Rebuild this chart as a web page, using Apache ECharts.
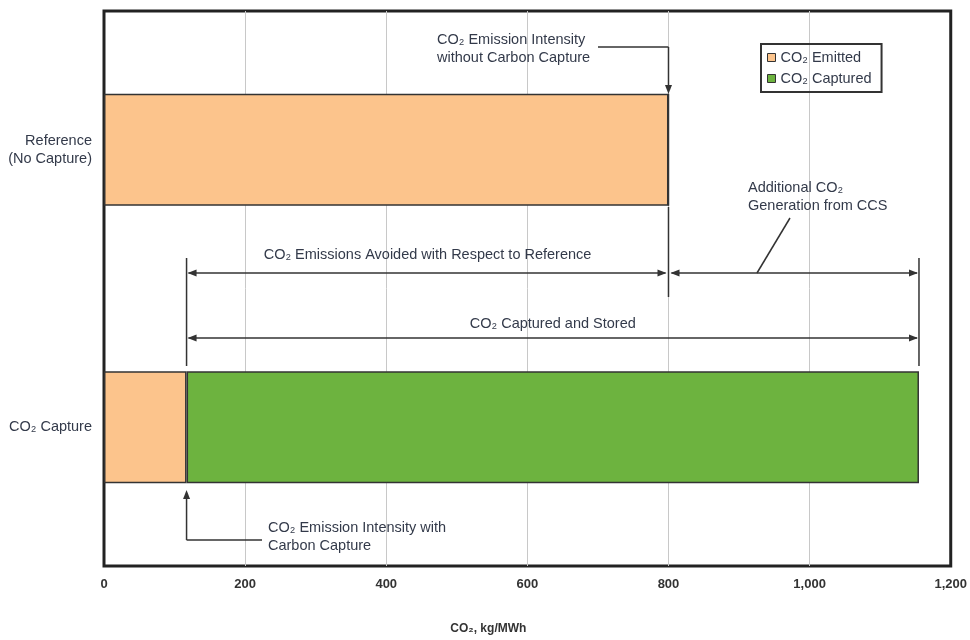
<!DOCTYPE html>
<html>
<head>
<meta charset="utf-8">
<script src="https://cdn.jsdelivr.net/npm/echarts@6/dist/echarts.min.js"></script>
<style>html,body{margin:0;padding:0;background:#fff;}#c{width:970px;height:640px;}</style>
</head>
<body>
<div id="c"></div>
<script>
// ---- data ----
var categories = ['Reference\n(No Capture)', 'CO₂ Capture'];
var emitted = [800, 117];
var captured = [0, 1038];
var xTicks = [0, 200, 400, 600, 800, 1000, 1200];
var seriesNames = ['CO₂ Emitted', 'CO₂ Captured'];

var FONT = '"Liberation Sans", Arial, sans-serif';
var TXT = '#333a4a';
var FS = 14.5;
var chart = echarts.init(document.getElementById('c'), null, {renderer: 'canvas'});

var option = {
  animation: false,
  backgroundColor: '#fff',
  textStyle: {fontFamily: FONT},
  grid: {left: 104, right: 15, top: 11, bottom: 68, show: true, borderColor: '#222', borderWidth: 3, containLabel: false},
  legend: {
    left: 761, top: 44, orient: 'vertical',
    data: seriesNames,
    icon: 'rect', itemWidth: 8, itemHeight: 8, itemGap: 6,
    padding: [6, 10, 6, 6],
    borderColor: '#333', borderWidth: 2,
    textStyle: {fontSize: FS, color: TXT, fontFamily: FONT},
    itemStyle: {borderColor: '#333', borderWidth: 1}
  },
  xAxis: {
    type: 'value', min: xTicks[0], max: xTicks[xTicks.length - 1], interval: 200,
    name: 'CO₂, kg/MWh', nameLocation: 'middle', nameGap: 57,
    nameTextStyle: {fontSize: 12, fontWeight: 'bold', color: '#333', fontFamily: FONT, padding: [0, 78, 0, 0]},
    axisLine: {show: false}, axisTick: {show: false},
    axisLabel: {margin: 12, fontSize: 13, fontWeight: 'bold', color: '#333',
      formatter: function (v) { return v.toLocaleString('en-US'); }},
    splitLine: {show: true, showMinLine: false, showMaxLine: false, lineStyle: {color: '#c8c8c8', width: 1}}
  },
  yAxis: {
    type: 'category', data: categories, inverse: true,
    axisLine: {show: false}, axisTick: {show: false},
    axisLabel: {margin: 12, fontSize: FS, color: TXT, lineHeight: 18, align: 'right'},
    splitLine: {show: false}
  },
  series: [
    {name: seriesNames[0], type: 'bar', stack: 'a', data: emitted, barWidth: 112,
      itemStyle: {color: '#fcc48c', borderColor: '#333', borderWidth: 1.5}},
    {name: seriesNames[1], type: 'bar', stack: 'a', data: captured, barWidth: 112,
      itemStyle: {color: '#6db33f', borderColor: '#333', borderWidth: 1.5}}
  ]
};
chart.setOption(option);

// ---- annotations, positioned via the x scale ----
function px(v) { return chart.convertToPixel({xAxisIndex: 0}, v); }
var xRef = px(emitted[0]);
var xCapE = px(emitted[1]);
var xTot = px(emitted[1] + captured[1]);
var LS = {stroke: '#333', lineWidth: 1.5};
var g = [];
function line(x1, y1, x2, y2) { g.push({type: 'line', shape: {x1: x1, y1: y1, x2: x2, y2: y2}, style: LS, z: 50}); }
function head(x, y, dir) {
  var L = 9, W = 3.5, pts;
  if (dir === 'left') pts = [[x, y], [x + L, y - W], [x + L, y + W]];
  else if (dir === 'right') pts = [[x, y], [x - L, y - W], [x - L, y + W]];
  else if (dir === 'down') pts = [[x, y], [x - W, y - L], [x + W, y - L]];
  else pts = [[x, y], [x - W, y + L], [x + W, y + L]];
  g.push({type: 'polygon', shape: {points: pts}, style: {fill: '#333'}, z: 51});
}
function text(x, y, s, align) {
  g.push({type: 'text', x: x, y: y, style: {text: s, fill: TXT, font: FS + 'px ' + FONT, align: align || 'left', verticalAlign: 'top', lineHeight: 18}, z: 52});
}
// top: intensity without capture
text(437, 31, 'CO₂ Emission Intensity\nwithout Carbon Capture');
line(598, 47, xRef, 47); line(xRef, 47, xRef, 87); head(xRef, 94, 'down');
// verticals
line(xCapE, 258, xCapE, 366);
line(xRef, 207, xRef, 297);
line(xTot, 258, xTot, 366);
// avoided
line(xCapE + 2, 273, xRef - 3, 273); head(xCapE + 1, 273, 'left'); head(xRef - 2, 273, 'right');
text((xCapE + xRef) / 2, 246, 'CO₂ Emissions Avoided with Respect to Reference', 'center');
// additional
line(xRef + 3, 273, xTot - 2, 273); head(xRef + 2, 273, 'left'); head(xTot - 1, 273, 'right');
text(748, 179, 'Additional CO₂\nGeneration from CCS');
line(790, 218, 757, 273);
// captured & stored
line(xCapE + 2, 338, xTot - 2, 338); head(xCapE + 1, 338, 'left'); head(xTot - 1, 338, 'right');
text((xCapE + xTot) / 2, 315, 'CO₂ Captured and Stored', 'center');
// bottom: intensity with capture
line(xCapE, 540, xCapE, 497); head(xCapE, 490, 'up'); line(xCapE, 540, 262, 540);
text(268, 519, 'CO₂ Emission Intensity with\nCarbon Capture');

chart.setOption({graphic: g});
</script>
</body>
</html>
